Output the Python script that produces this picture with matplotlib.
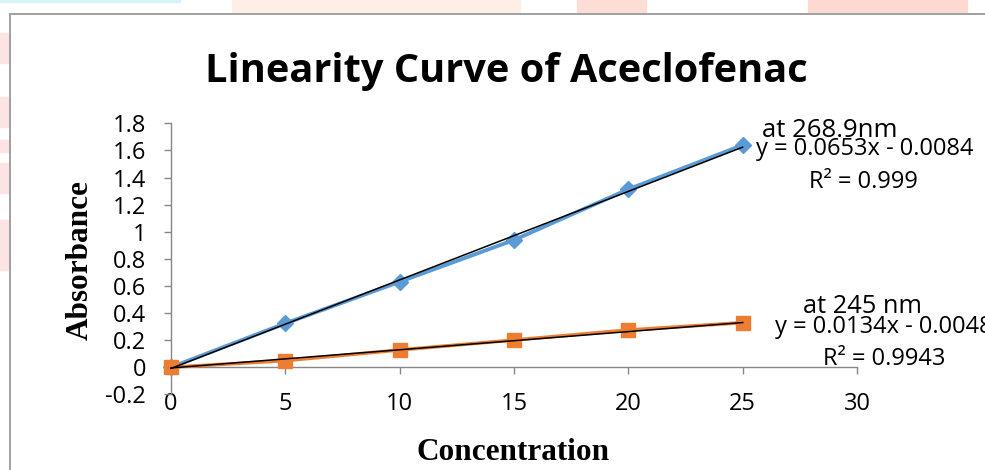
import numpy as np
import matplotlib
matplotlib.use("Agg")
import matplotlib.pyplot as plt
from matplotlib.patches import Rectangle
from matplotlib.ticker import FuncFormatter

# datos
concentracion = [0, 5, 10, 15, 20, 25]
abs_268 = [0.0, 0.324, 0.631, 0.939, 1.313, 1.639]
abs_245 = [0.0, 0.049, 0.128, 0.201, 0.275, 0.329]

# rectas de tendencia (pendiente, ordenada) y textos
pend_268, ord_268 = 0.0653, -0.0084
pend_245, ord_245 = 0.0134, -0.0048
etiquetas = ["at 268.9nm", "y = 0.0653x - 0.0084", "R² = 0.999",
             "at 245 nm", "y = 0.0134x - 0.0048", "R² = 0.9943"]

x_ticks = [0, 5, 10, 15, 20, 25, 30]
y_ticks = [-0.2, 0, 0.2, 0.4, 0.6, 0.8, 1, 1.2, 1.4, 1.6, 1.8]

W, H = 985, 470
AZUL = "#5B9BD5"
NARANJA = "#ED7D31"
GRIS = "#868686"
SANS = ["Open Sans", "DejaVu Sans"]
SERIF = ["Liberation Serif", "DejaVu Serif"]


def fx(px):
    return px / W


def fy(py):
    return 1 - py / H


fig = plt.figure(figsize=(W / 100, H / 100), dpi=100)
fig.patch.set_facecolor("white")

# fondo de la página (manchas rosadas y marco del gráfico)
for x0, y0, x1, y1, col in [(232, 0, 520, 14, "#fdeee6"), (577, 0, 646, 14, "#fdddd6"),
                            (808, 0, 967, 14, "#fdd9d2"), (0, 33, 10, 63, "#fde3e3"),
                            (0, 97, 10, 127, "#fde3e3"), (0, 140, 10, 152, "#fde3e3"),
                            (0, 163, 10, 193, "#fde3e3"), (0, 220, 10, 270, "#fde3e3"),
                            (0, 0, 180, 1.5, "#d8f4fa")]:
    fig.patches.append(Rectangle((fx(x0), fy(y1)), fx(x1 - x0), (y1 - y0) / H,
                                 transform=fig.transFigure, color=col, zorder=-3))
fig.patches.append(Rectangle((fx(10), fy(H + 20)), fx(W), (H + 6) / H,
                             transform=fig.transFigure, facecolor="white",
                             edgecolor="#a0a0a0", lw=1.4, zorder=-2))

ax = fig.add_axes([fx(171), fy(394.4), fx(857 - 171), (394.4 - 123.3) / H])
ax.set_facecolor("none")

ax.plot(concentracion, abs_268, color=AZUL, lw=2.8, marker="D", ms=8.5,
        clip_on=False, zorder=3)
ax.plot(concentracion, abs_245, color=NARANJA, lw=2.5, marker="s", ms=10,
        clip_on=False, zorder=3)

xs = np.array([concentracion[0], concentracion[-1]])
ax.plot(xs, pend_268 * xs + ord_268, color="black", lw=1.1, zorder=4, clip_on=False)
ax.plot(xs, pend_245 * xs + ord_245, color="black", lw=1.1, zorder=4, clip_on=False)

ax.set_xlim(0, 30)
ax.set_ylim(-0.2, 1.8)
ax.set_xticks(x_ticks)
ax.set_yticks(y_ticks)
ax.yaxis.set_major_formatter(FuncFormatter(lambda v, p: f"{round(v, 1):g}"))

for s in ["top", "right"]:
    ax.spines[s].set_visible(False)
ax.spines["bottom"].set_position(("data", 0))
for s in ["left", "bottom"]:
    ax.spines[s].set_color(GRIS)
    ax.spines[s].set_linewidth(1.0)

ax.tick_params(axis="both", direction="out", length=5, width=1.0, color=GRIS,
               labelsize=17, labelcolor="black")
ax.tick_params(axis="x", pad=12.5)
ax.tick_params(axis="y", pad=13)
for lab in ax.get_xticklabels() + ax.get_yticklabels():
    lab.set_fontfamily(SANS)

# títulos
fig.text(fx(506), fy(82), "Linearity Curve of Aceclofenac", fontsize=28.6,
         fontweight="bold", family=SANS, ha="center", va="baseline")
fig.text(fx(80), fy(260), "Absorbance", fontsize=22.5, fontweight="bold",
         family=SERIF, rotation=90, ha="center", va="center")
fig.text(fx(513), fy(460), "Concentration", fontsize=22.5, fontweight="bold",
         family=SERIF, ha="center", va="baseline")

# etiquetas de las rectas de tendencia
pos = [(762, 137), (756, 155), (809, 188), (803, 313), (775, 333), (823, 365)]
tam = [18.5, 17, 17, 18.3, 17, 17]
for (px, py), txt, t in zip(pos, etiquetas, tam):
    fig.text(fx(px), fy(py), txt, fontsize=t, family=SANS,
             ha="left", va="baseline")

plt.savefig("out.png", dpi=100)
plt.close()
